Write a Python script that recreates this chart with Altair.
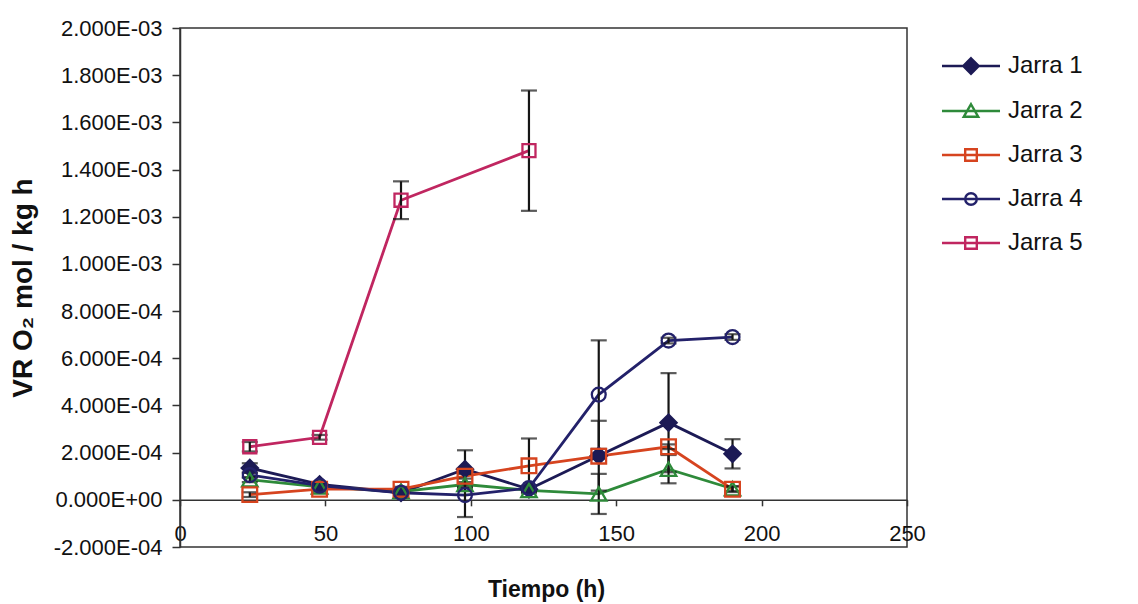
import altair as alt
import pandas as pd

FONT = "Liberation Sans"

series = ["Jarra 1", "Jarra 2", "Jarra 3", "Jarra 4", "Jarra 5"]
colors = ["#1c1a55", "#2e8a3a", "#d6441f", "#23216a", "#c02660"]
fills = ["#1c1a55", "transparent", "transparent", "transparent", "transparent"]
shapes = ["diamond", "triangle-up", "square", "circle", "square"]
sizes = [260, 170, 170, 150, 170]
# legend symbols: line segment with the marker on it
legend_paths = [
    "M-3,0H3M0,-0.8L0.8,0L0,0.8L-0.8,0Z",
    "M-3,0H3M0,-0.7L0.75,0.6H-0.75Z",
    "M-3,0H3M-0.6,-0.6H0.6V0.6H-0.6Z",
    "M-3,0H3M0.6,0A0.6,0.6 0 1,1 -0.6,0A0.6,0.6 0 1,1 0.6,0",
    "M-3,0H3M-0.6,-0.6H0.6V0.6H-0.6Z",
]

times = [24, 48, 76, 98, 120, 144, 168, 190]
times5 = [24, 48, 76, 120]

jarra1 = [1.35e-4, 0.65e-4, 0.30e-4, 1.30e-4, 0.45e-4, 1.87e-4, 3.27e-4, 1.95e-4]
jarra1_err = [0.20e-4, 0.10e-4, 0.05e-4, 0.80e-4, 0.10e-4, 1.48e-4, 2.10e-4, 0.62e-4]
jarra2 = [0.85e-4, 0.55e-4, 0.35e-4, 0.65e-4, 0.40e-4, 0.25e-4, 1.30e-4, 0.47e-4]
jarra2_err = [0.10e-4, 0.05e-4, 0.05e-4, 0.10e-4, 0.05e-4, 0.85e-4, 0.60e-4, 0.10e-4]
jarra3 = [0.22e-4, 0.45e-4, 0.45e-4, 1.00e-4, 1.44e-4, 1.85e-4, 2.25e-4, 0.45e-4]
jarra3_err = [0.10e-4, 0.10e-4, 0.10e-4, 0.10e-4, 1.16e-4, 0.10e-4, 0.10e-4, 0.12e-4]
jarra4 = [1.05e-4, 0.60e-4, 0.30e-4, 0.20e-4, 0.50e-4, 4.46e-4, 6.75e-4, 6.90e-4]
jarra4_err = [0.10e-4, 0.05e-4, 0.05e-4, 0.93e-4, 0.10e-4, 2.30e-4, 0.12e-4, 0.12e-4]
jarra5 = [2.25e-4, 2.65e-4, 12.7e-4, 14.8e-4]
jarra5_err = [0.20e-4, 0.10e-4, 0.80e-4, 2.55e-4]

x_ticks = [0, 50, 100, 150, 200, 250]
y_ticks = [-2e-4, 0, 2e-4, 4e-4, 6e-4, 8e-4, 1e-3, 1.2e-3, 1.4e-3, 1.6e-3, 1.8e-3, 2e-3]
x_domain = [0, 250]
y_domain = [-2e-4, 2e-3]

rows = []
all_t = [times, times, times, times, times5]
all_v = [jarra1, jarra2, jarra3, jarra4, jarra5]
all_e = [jarra1_err, jarra2_err, jarra3_err, jarra4_err, jarra5_err]
for name, ts, vs, es in zip(series, all_t, all_v, all_e):
    for t, v, e in zip(ts, vs, es):
        rows.append({"series": name, "t": t, "v": v, "lo": v - e, "hi": v + e})
df = pd.DataFrame(rows)

W, H = 727, 519
zero_offset = -H * (0 - y_domain[0]) / (y_domain[1] - y_domain[0])

x_scale = alt.Scale(domain=x_domain, nice=False, zero=False)
y_scale = alt.Scale(domain=y_domain, nice=False, zero=False)

x_axis = alt.Axis(
    values=x_ticks, offset=zero_offset, tickSize=6, tickWidth=1.5, tickColor="#333",
    domainColor="#333", domainWidth=1.5, grid=False,
    labelFont=FONT, labelFontSize=22, labelColor="#111", labelPadding=18,
    labelFlush=False, labelOverlap=False,
    title="Tiempo (h)", titleFont=FONT, titleFontSize=23, titleFontWeight="bold",
    titleColor="#111", titleX=366, titleY=97, titleAlign="center", titleBaseline="alphabetic",
)
y_axis = alt.Axis(
    values=y_ticks, tickSize=8, tickWidth=1.5, tickColor="#333",
    domainColor="#333", domainWidth=1.5, grid=False,
    labelFont=FONT, labelFontSize=22, labelColor="#111", labelPadding=10,
    labelFlush=False, labelOverlap=False,
    labelExpr="replace(replace(replace(format(datum.value, '.3e'), '\u2212', '-'), 'e-', 'E-0'), 'e+', 'E+0')",
    title="VR O\u2082 mol / kg h", titleFont=FONT, titleFontSize=28, titleFontWeight="bold",
    titleColor="#111", titleX=-157, titleY=H / 2, titleAngle=270, titleAlign="center",
    titleBaseline="middle",
)


def X(field):
    return alt.X(field, type="quantitative", scale=x_scale, axis=x_axis)


def Y(field):
    return alt.Y(field, type="quantitative", scale=y_scale, axis=y_axis)


base = alt.Chart(df)

lines = base.mark_line(strokeWidth=2.8).encode(
    x=X("t"), y=Y("v"),
    color=alt.Color("series:N", scale=alt.Scale(domain=series, range=colors), legend=None),
)

rules = base.mark_rule(color="#151515", strokeWidth=2.2).encode(
    x=X("t"), y=Y("lo"), y2="hi:Q"
)

caps = base.transform_fold(["lo", "hi"], as_=["end", "yv"]).mark_tick(
    orient="horizontal", size=16, thickness=2.2, color="#151515"
).encode(x=X("t"), y=Y("yv"))

points = base.mark_point(strokeWidth=2.3, opacity=1).encode(
    x=X("t"), y=Y("v"),
    stroke=alt.Stroke("series:N", scale=alt.Scale(domain=series, range=colors), legend=None),
    fill=alt.Fill("series:N", scale=alt.Scale(domain=series, range=fills), legend=None),
    shape=alt.Shape("series:N", scale=alt.Scale(domain=series, range=shapes), legend=None),
    size=alt.Size("series:O", scale=alt.Scale(domain=series, range=sizes), legend=None),
)

leg = alt.Legend(
    title=None, orient="none", legendX=779, legendY=26,
    labelFont=FONT, labelFontSize=24, labelColor="#111", labelLimit=300,
    symbolSize=374, symbolStrokeWidth=2.4, symbolOpacity=1,
    rowPadding=20, labelOffset=25,
)

legend_layer = base.mark_point(opacity=0).encode(
    x=X("t"), y=Y("v"),
    stroke=alt.Stroke("series:N", scale=alt.Scale(domain=series, range=colors), legend=leg),
    fill=alt.Fill("series:N", scale=alt.Scale(domain=series, range=fills), legend=leg),
    shape=alt.Shape("series:N", scale=alt.Scale(domain=series, range=legend_paths), legend=leg),
)

chart = alt.layer(lines, rules, caps, points, legend_layer).resolve_scale(
    shape="independent", stroke="independent", fill="independent", size="independent"
).properties(
    width=W, height=H,
    padding={"left": 180, "top": 28, "right": 1138 - 180 - W, "bottom": 604 - 28 - H},
    autosize=alt.AutoSizeParams(type="none"),
    background="white",
).configure_view(stroke="#333", strokeWidth=1.5, fill="white")

chart.save("out.html", embed_options={"renderer": "svg", "actions": False})
